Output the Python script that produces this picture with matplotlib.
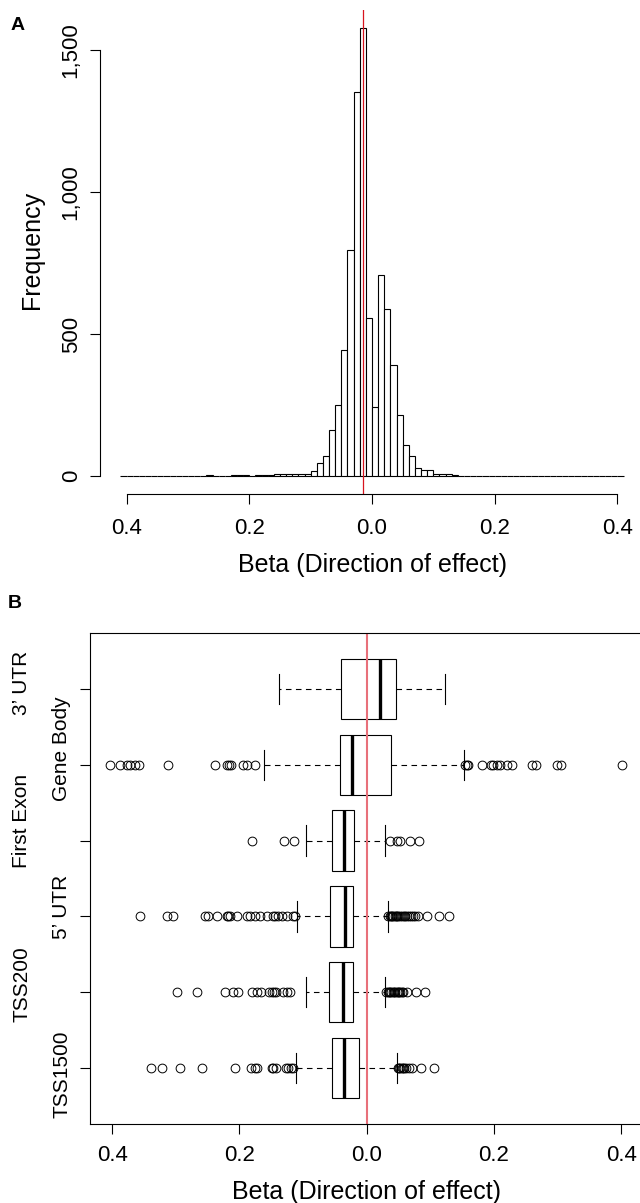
import numpy as np
import matplotlib.pyplot as plt
from matplotlib.ticker import FuncFormatter
from matplotlib.transforms import blended_transform_factory

plt.rcParams['font.family'] = ['Liberation Sans', 'DejaVu Sans']

# ---- panel A: histogram of beta (bins of 0.01 from -0.41 to 0.41)
bin_start = -0.41
bin_width = 0.01
counts = [1, 0, 1, 2, 1, 0, 1, 1, 2, 1,
          2, 1, 1, 2, 3, 2, 1, 2, 3, 4,
          3, 2, 5, 3, 3, 8, 6, 8, 6, 8, 8,
          18, 45, 72, 162, 249, 446, 797, 1353, 1579, 557,
          242, 708, 587, 392, 217, 111, 72, 27, 23, 21, 9, 7, 9,
          3, 2, 2, 1, 2, 1, 1, 2, 1, 1, 2, 1, 1, 1, 2, 1,
          1, 2, 1, 1, 1, 1, 1, 1, 1, 1, 1, 1]
mean_beta = -0.0145
freq_ticks = [0, 500, 1000, 1500]
beta_ticks = [-0.4, -0.2, 0.0, 0.2, 0.4]

# ---- panel B: boxplots per gene region (bottom to top)
regions = ['TSS1500', 'TSS200', '5\u2019 UTR', 'First Exon', 'Gene Body', '3\u2019 UTR']
q1 = [-0.054, -0.0587, -0.0577, -0.055, -0.0424, -0.0404]
med = [-0.0352, -0.0367, -0.0341, -0.0357, -0.0236, 0.0209]
q3 = [-0.0121, -0.022, -0.021, -0.020, 0.0382, 0.046]
whislo = [-0.111, -0.0954, -0.110, -0.0958, -0.161, -0.1378]
whishi = [0.0481, 0.0293, 0.034, 0.0293, 0.1534, 0.123]
fliers = [
    [-0.3394, -0.3211, -0.2933, -0.2588, -0.2069, -0.1823, -0.1755, -0.1719,
     -0.1493, -0.1467, -0.1425, -0.1268, -0.1231, -0.1194, -0.1152,
     0.049, 0.051, 0.053, 0.055, 0.057, 0.059, 0.062, 0.066, 0.071, 0.085, 0.106],
    [-0.2976, -0.2671, -0.2226, -0.2096, -0.2017, -0.1797, -0.1728, -0.1665,
     -0.1530, -0.1493, -0.1456, -0.1425, -0.1310, -0.1257, -0.1205,
     0.031, 0.033, 0.035, 0.037, 0.039, 0.041, 0.043, 0.045, 0.047, 0.049,
     0.051, 0.053, 0.055, 0.057, 0.064, 0.078, 0.092],
    [-0.3562, -0.3133, -0.3048, -0.2540, -0.2489, -0.2357, -0.2200, -0.2174,
     -0.2148, -0.2033, -0.1885, -0.1833, -0.1755, -0.1676, -0.1571, -0.1477,
     -0.1440, -0.1388, -0.1335, -0.1257, -0.1152, -0.1126,
     0.034, 0.036, 0.038, 0.040, 0.042, 0.044, 0.046, 0.048, 0.050, 0.052,
     0.055, 0.058, 0.060, 0.063, 0.066, 0.070, 0.073, 0.076, 0.080, 0.095,
     0.114, 0.130],
    [-0.1807, -0.1294, -0.1142, 0.0366, 0.0482, 0.0524, 0.068, 0.0827],
    [-0.4033, -0.3876, -0.3771, -0.3719, -0.3640, -0.3572, -0.3117, -0.2383,
     -0.2200, -0.2159, -0.2132, -0.1939, -0.1886, -0.1753,
     0.155, 0.157, 0.1596, 0.1816, 0.1948, 0.1989, 0.2042, 0.2094, 0.2200,
     0.2278, 0.2592, 0.2660, 0.2985, 0.3048, 0.4006],
    [],
]
# the region names sit a little off their ticks in the original
label_shift = [-0.09, 0.11, 0.12, 0.26, 0.21, 0.08]


def px(x0, y0, x1, y1, W=640, H=1203):
    # pixel box (left, top, right, bottom) -> figure fraction rect
    return [x0 / W, 1 - y1 / H, (x1 - x0) / W, (y1 - y0) / H]


def abs_fmt(v, pos):
    return '{:.1f}'.format(abs(v))


fig = plt.figure(figsize=(6.4, 12.03), dpi=100)

# ---------------- panel A
axA = fig.add_axes(px(100, 10, 644, 494))
edges = bin_start + bin_width * np.arange(len(counts))
axA.bar(edges, counts, width=bin_width, align='edge', color='white',
        edgecolor='black', linewidth=0.8)
axA.axvline(mean_beta, color='#d8141e', linewidth=0.9)
axA.set_xlim(-0.4434, 0.4434)
axA.set_ylim(-63, 1642)
for s in ['top', 'right']:
    axA.spines[s].set_visible(False)
axA.spines['left'].set_bounds(0, 1500)
axA.spines['bottom'].set_bounds(-0.4, 0.4)
axA.set_yticks(freq_ticks)
axA.yaxis.set_major_formatter(FuncFormatter(lambda v, p: '{:,.0f}'.format(v)))
axA.set_xticks(beta_ticks)
axA.xaxis.set_major_formatter(FuncFormatter(abs_fmt))
axA.tick_params(axis='both', direction='out', length=7.2, width=0.8, labelsize=16)
axA.tick_params(axis='y', labelrotation=90, pad=6)
for lab in axA.get_yticklabels():
    lab.set_va('center')
axA.tick_params(axis='x', pad=10)
fig.text(32 / 640, 1 - 250 / 1203, 'Frequency', rotation=90, ha='center',
         va='center', fontsize=18)
fig.text(372 / 640, 1 - 565 / 1203, 'Beta (Direction of effect)', ha='center',
         va='center', fontsize=18)
fig.text(18 / 640, 1 - 25 / 1203, 'A', ha='center', va='center', fontsize=14,
         fontweight='bold')

# ---------------- panel B
axB = fig.add_axes(px(90, 633, 641.7, 1124))
stats = []
for i in range(len(regions)):
    stats.append(dict(label=regions[i], q1=q1[i], med=med[i], q3=q3[i],
                      whislo=whislo[i], whishi=whishi[i], fliers=fliers[i]))
positions = np.arange(1, len(regions) + 1)
axB.bxp(stats, positions=positions, widths=0.8, capwidths=0.4,
        orientation='horizontal', patch_artist=True,
        boxprops=dict(facecolor='white', edgecolor='black', linewidth=0.8),
        whiskerprops=dict(color='black', linewidth=0.8, linestyle=(0, (5, 4))),
        capprops=dict(color='black', linewidth=0.8),
        medianprops=dict(color='black', linewidth=2.4),
        flierprops=dict(marker='o', markersize=6.3, markerfacecolor='none',
                        markeredgecolor='black', markeredgewidth=0.7))
axB.axvline(0, color='#e8707a', linewidth=1.5)
axB.set_xlim(-0.4347, 0.4322)
axB.set_ylim(0.26, 6.74)
axB.set_xticks(beta_ticks)
axB.xaxis.set_major_formatter(FuncFormatter(abs_fmt))
axB.set_yticks(positions)
axB.set_yticklabels([])
for s in axB.spines.values():
    s.set_linewidth(0.8)
axB.tick_params(axis='both', direction='out', length=7.2, width=0.8, labelsize=16)
axB.tick_params(axis='x', pad=8)
trans = blended_transform_factory(axB.transAxes, axB.transData)
for i, name in enumerate(regions):
    xpos = -0.0513 if i % 2 == 0 else -0.1238
    axB.text(xpos, positions[i] + label_shift[i], name, transform=trans,
             rotation=90, ha='center', va='center', fontsize=15)
fig.text(366 / 640, 1 - 1192 / 1203, 'Beta (Direction of effect)', ha='center',
         va='center', fontsize=18)
fig.text(15 / 640, 1 - 603 / 1203, 'B', ha='center', va='center', fontsize=14,
         fontweight='bold')

fig.savefig('out.png', dpi=100)
